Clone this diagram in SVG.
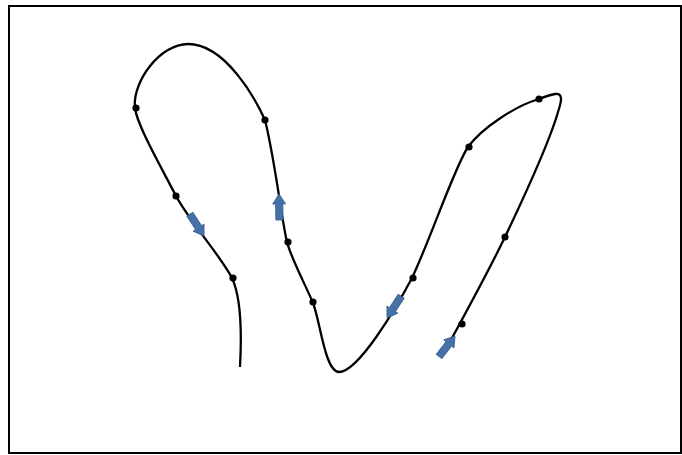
<svg xmlns="http://www.w3.org/2000/svg" width="682" height="455" viewBox="0 0 682 455">
  <style>
    .frame { fill: #ffffff; stroke: #000000; stroke-width: 2; }
    .curve { fill: none; stroke: #000000; stroke-width: 2.3; stroke-linecap: butt; stroke-linejoin: round; }
    .dot { fill: #000000; }
    .arr { fill: #4472a8; stroke: #36598a; stroke-width: 0.8; stroke-linejoin: miter; }
  </style>
  <defs>
    <polygon id="blockArrow" class="arr" points="0,0 -10,-6.5 -10,-3.6 -26,-3.6 -26,3.6 -10,3.6 -10,6.5"/>
  </defs>
  <rect class="frame" x="9" y="6" width="672" height="447"/>
  <g id="connectors">
    <path class="curve" d="M 452 338
      C 470 305, 490 268, 505 237
      C 525 195, 550 140, 558 112
      C 562 100, 563 93, 555 94
      C 549 95, 544 97, 539 99
      C 515 106, 482 128, 468 147
      C 455 166, 430 240, 412 278
      C 395 310, 358 372, 339 372
      C 325 372, 320 320, 313 303
      C 306 286, 291 258, 287 242
      C 282 222, 275 160, 265 120
      C 255 98, 225 44, 188 44
      C 160 44, 132 82, 135 108
      C 137 125, 160 165, 176 196
      C 190 222, 220 255, 232 278
      C 240 295, 242 330, 240 367"/>
  </g>
  <g id="points">
    <circle class="dot" cx="462" cy="324" r="3.6"/>
    <circle class="dot" cx="505" cy="237" r="3.6"/>
    <circle class="dot" cx="539" cy="99" r="3.6"/>
    <circle class="dot" cx="469" cy="147" r="3.6"/>
    <circle class="dot" cx="413" cy="278" r="3.6"/>
    <circle class="dot" cx="313" cy="302" r="3.6"/>
    <circle class="dot" cx="288" cy="242" r="3.6"/>
    <circle class="dot" cx="265" cy="120" r="3.6"/>
    <circle class="dot" cx="136" cy="108" r="3.6"/>
    <circle class="dot" cx="176" cy="196" r="3.6"/>
    <circle class="dot" cx="233" cy="278" r="3.6"/>
  </g>
  <g id="arrows">
    <use href="#blockArrow" transform="translate(204,236) rotate(57)"/>
    <use href="#blockArrow" transform="translate(279,194) rotate(-91)"/>
    <use href="#blockArrow" transform="translate(387,318) rotate(123)"/>
    <use href="#blockArrow" transform="translate(455,336) rotate(-52)"/>
  </g>
</svg>
